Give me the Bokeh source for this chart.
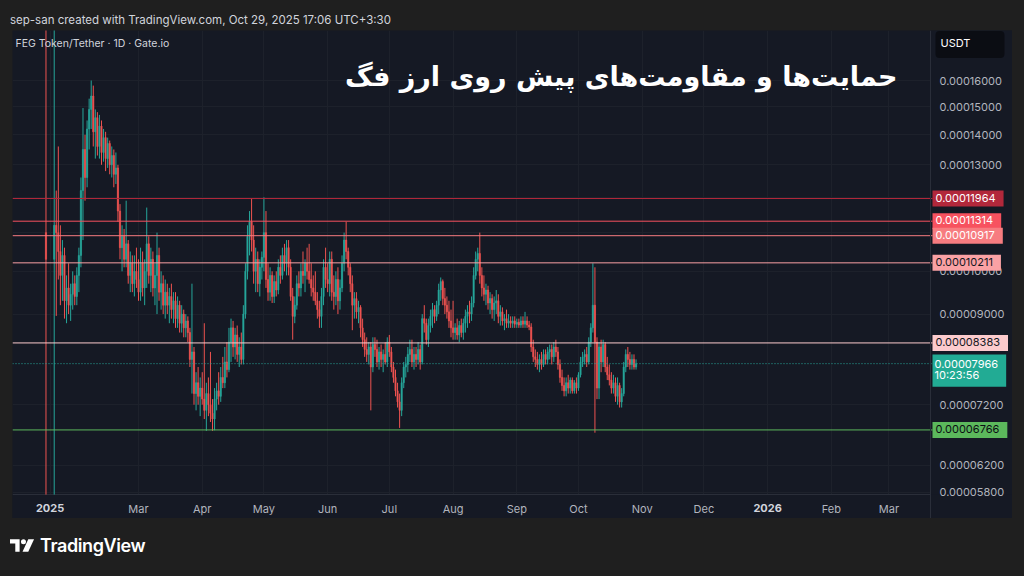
import json
import numpy as np
import pandas as pd
from bokeh.plotting import figure
from bokeh.models import (ColumnDataSource, Span, Label, FixedTicker, PrintfTickFormatter,
                          CustomJSTickFormatter, Range1d, Div, BoxAnnotation)
from bokeh.layouts import column
from bokeh.embed import file_html
from bokeh.resources import INLINE

# ---------------- data (prices in units of 1e-8 USDT) ----------------
first_open = 11000
close = [
    # Jan (15, 19-31)
    10300, 11200, 11000, 10500, 9900, 10400, 9300, 9600, 9200, 9450, 9700, 9400, 9900, 10400,
    # Feb
    12200, 13500, 12600, 14200, 14900, 15400, 14100, 14600, 13600, 14300, 13400, 13900, 13200, 13700,
    13000, 13300, 12700, 12900, 11600, 10600, 10900, 10300, 10700, 9900, 10200, 9700, 10000, 9800,
    # Mar
    9500, 10200, 9600, 10000, 10700, 9900, 10300, 9600, 9900, 10400, 9500, 9700, 9200, 9500, 9200, 9400,
    9100, 9300, 8900, 9200, 8800, 9000, 8700, 8850, 8600, 8050, 8200, 7400, 7600, 7350, 7500,
    # Apr
    7300, 7100, 7400, 7200, 7050, 6950, 7300, 7450, 7350, 7700, 7600, 8000, 7850, 8400, 8700,
    8300, 8550, 8150, 8300, 8050, 9000, 10000, 10900, 11300, 10800, 10000, 10300, 9700, 10100, 10350,
    # May
    11000, 9800, 9500, 9900, 9400, 9750, 9550, 10100, 9900, 10400, 10200, 10600, 10100, 9400, 8950, 9200,
    9700, 9600, 10000, 9900, 10200, 10000, 9800, 9600, 9500, 9300, 9100, 8950, 9400, 10100, 9800,
    # Jun
    9700, 10300, 9500, 9400, 9800, 9300, 9600, 10200, 10800, 10500, 10100, 9700, 9200, 9350, 9050,
    9150, 8700, 8450, 8250, 8150, 8300, 7900, 8350, 8250, 8000, 8200, 8050, 8150, 8000, 8400,
    # Jul
    8200, 7900, 7700, 7450, 7250, 7100, 7600, 7900, 7950, 8150, 8250, 8000, 8150, 8050, 8250, 8000,
    8900, 8800, 8450, 8750, 8950, 9100, 8950, 9200, 9550, 9750, 9350, 9200, 9050, 8850, 8700,
    # Aug
    8600, 8700, 8550, 8750, 8600, 8800, 8950, 9050, 9000, 9250, 9900, 10300, 10450, 9900, 9600, 9450,
    9550, 9250, 9350, 9100, 9250, 9300, 8950, 9050, 8850, 8900, 8800, 8850, 8800, 8850, 8780,
    # Sep
    8820, 8760, 8850, 8780, 8850, 8760, 8720, 8300, 8100, 8050, 7950, 8050, 7950, 8150, 8050,
    8200, 8250, 8100, 8300, 8200, 7950, 7700, 7550, 7450, 7600, 7500, 7650, 7450, 7600, 7500,
    # Oct
    7750, 8000, 8100, 8150, 8000, 8400, 8700, 9200, 8400, 7500, 8300, 8000, 8350, 7900, 7750,
    7650, 7500, 7600, 7350, 7550, 7250, 7400, 7900, 8150, 8050, 7950, 8050, 7900, 7966,
]
high = [
    40000, 40000, 12200, 13600, 11200, 10800, 10600, 9900, 10200, 9700, 10000, 9900, 10100, 10600,
    12600, 14950, 14000, 14500, 15300, 16000, 15800, 14900, 14800, 14700, 14500, 14200, 14100, 13900,
    13800, 13600, 13500, 13400, 13000, 11800, 11200, 11100, 11900, 10800, 10500, 10400, 10400, 10600,
    10300, 10600, 10500, 10300, 11700, 10900, 10600, 10500, 10200, 11000, 10600, 10000, 9900, 9800, 9700, 9600,
    9700, 9500, 9500, 9400, 9300, 9200, 9100, 9000, 8950, 8700, 9700, 8300, 7800, 7900, 7700,
    7800, 8800, 7600, 7700, 8200, 7300, 7500, 7600, 7800, 7900, 8100, 8300, 8400, 8700, 8900,
    8850, 8700, 8750, 8500, 8600, 9200, 10200, 11200, 11600, 11950, 11200, 10600, 10500, 10300, 10500,
    12000, 11600, 10200, 10100, 10000, 9900, 10000, 10300, 10400, 10600, 10700, 10800, 10800, 10300, 9600, 9400,
    9900, 10000, 10200, 10500, 10300, 10600, 10700, 10200, 9900, 10000, 9500, 9300, 9600, 10300, 10600,
    10200, 10500, 10500, 9900, 10000, 10100, 9800, 10400, 11000, 11300, 10600, 10200, 9900, 9500, 9500,
    9300, 9200, 8900, 8600, 8500, 8400, 8400, 8500, 8500, 8450, 8300, 8350, 8250, 8400, 8500,
    8550, 8300, 8000, 7850, 7600, 7400, 7700, 8000, 8100, 8300, 8450, 8450, 8300, 8300, 8400, 8350,
    9000, 9200, 8900, 8900, 9100, 9250, 9200, 9300, 9700, 9850, 9800, 9600, 9400, 9300, 9100,
    9300, 8800, 8900, 8850, 8900, 8900, 9100, 9200, 9300, 9400, 10100, 10500, 10600, 11000, 10100, 9900,
    9700, 9650, 9500, 9450, 9400, 9550, 9450, 9200, 9150, 9000, 9100, 9000, 8950, 8950, 8950,
    8900, 8900, 8950, 8950, 9050, 8950, 8850, 8800, 8450, 8250, 8200, 8150, 8200, 8250, 8250,
    8300, 8350, 8350, 8400, 8450, 8300, 8050, 7850, 7700, 7700, 7750, 7700, 7700, 7650, 7700,
    7800, 8100, 8200, 8250, 8300, 8500, 8800, 10200, 10100, 8500, 8400, 8450, 8450, 8400, 8100,
    7950, 7800, 7750, 7700, 7700, 7600, 7500, 8000, 8250, 8300, 8200, 8150, 8150, 8050,
]
low = [
    5770, 5770, 8960, 9800, 9200, 9300, 8900, 8800, 9000, 8850, 9100, 9200, 9200, 9500,
    10100, 10800, 11900, 12300, 13500, 14200, 13600, 13200, 13300, 13200, 13000, 13100, 12800, 12900,
    12700, 12600, 12300, 12400, 11300, 10300, 10000, 10100, 10100, 9700, 9500, 9500, 9400, 9600,
    9300, 9300, 9400, 9200, 9600, 9700, 9500, 9400, 9200, 9000, 9300, 9100, 9000, 8900, 9000, 8800,
    8900, 8800, 8700, 8700, 8600, 8600, 8500, 8500, 8400, 7900, 7400, 7200, 7100, 7200, 7000,
    7200, 6950, 6750, 7000, 6900, 6750, 6760, 7100, 7200, 7250, 7500, 7500, 7700, 7800, 8000,
    8100, 8050, 8000, 7900, 7950, 7950, 8900, 9800, 10400, 10500, 9700, 9500, 9500, 9400, 9800,
    10000, 9600, 9300, 9300, 9250, 9250, 9400, 9450, 9700, 9800, 10000, 9900, 9900, 9300, 8450, 8800,
    9100, 9400, 9400, 9700, 9500, 9800, 9700, 9400, 9300, 9200, 8900, 8700, 8700, 9200, 9600,
    9500, 9400, 9300, 9100, 9200, 9000, 9100, 9500, 10000, 10300, 9900, 9500, 8650, 8900, 8900,
    8800, 8500, 8300, 8100, 8000, 7950, 7100, 7800, 8100, 7900, 7850, 7900, 7800, 7950, 7900,
    8100, 7800, 7600, 7350, 7150, 6800, 7000, 7500, 7700, 7800, 8000, 7900, 7850, 7900, 7950, 7850,
    7950, 8600, 8350, 8300, 8600, 8700, 8800, 8850, 9000, 9300, 9200, 9000, 8900, 8700, 8500,
    8450, 8450, 8450, 8400, 8500, 8450, 8600, 8700, 8800, 8850, 9150, 9800, 10000, 9700, 9400, 9300,
    9200, 9100, 9000, 8900, 8850, 9000, 8800, 8750, 8750, 8650, 8700, 8700, 8700, 8700, 8700,
    8700, 8700, 8700, 8700, 8700, 8700, 8650, 8200, 8000, 7900, 7850, 7800, 7850, 7900, 7950,
    7950, 8050, 7950, 8000, 8100, 7850, 7600, 7450, 7350, 7350, 7400, 7400, 7400, 7400, 7400,
    7450, 7700, 7900, 7950, 7900, 7950, 8300, 8600, 6720, 7300, 7300, 7800, 7900, 7800, 7650,
    7550, 7400, 7400, 7250, 7200, 7150, 7150, 7350, 7800, 7900, 7850, 7850, 7850, 7850,
]
dates = ["2025-01-15"] + [d.strftime("%Y-%m-%d") for d in pd.date_range("2025-01-19", "2025-10-29")]

levels = [11964, 11314, 10917, 10211, 8383, 6766]
level_colors = ["#b2283b", "#f7525f", "#f77c80", "#faa1a4", "#fccbcd", "#5cb85c"]
level_text_colors = ["#ffffff", "#ffffff", "#ffffff", "#131722", "#131722", "#0b0e14"]
last_price = 7966
countdown = "10:23:56"
price_ticks = [5800, 6200, 7200, 9000, 10000, 11000, 12000, 13000, 14000, 15000, 16000]
month_ticks = ["2025-01-17", "2025-03-01", "2025-04-01", "2025-05-01", "2025-06-01", "2025-07-01",
               "2025-08-01", "2025-09-01", "2025-10-01", "2025-11-01", "2025-12-01", "2026-01-01",
               "2026-02-01", "2026-03-01"]
month_labels = ["2025", "Mar", "Apr", "May", "Jun", "Jul", "Aug", "Sep", "Oct", "Nov", "Dec", "2026",
                "Feb", "Mar"]
year_labels = ["2025", "2026"]
title_fa = "حمایت\u200cها و مقاومت\u200cهای پیش روی ارز فگ"
symbol_text = "FEG Token/Tether · 1D · Gate.io"
header_text = "sep-san created with TradingView.com, Oct 29, 2025 17:06 UTC+3:30"

# ---------------- preparation ----------------
SC = 1e-8
T0 = pd.Timestamp("2025-01-01")
xs = np.array([(pd.Timestamp(d) - T0).days for d in dates], dtype=float)
c = np.array(close, dtype=float)
o = np.array([first_open] + close[:-1], dtype=float)
h = np.maximum(np.array(high, dtype=float), np.maximum(o, c))
l = np.minimum(np.array(low, dtype=float), np.minimum(o, c))
UP, DOWN = "#26a69a", "#ef5350"
col = [UP if cc >= oo else DOWN for oo, cc in zip(o, c)]
src = ColumnDataSource(dict(x=xs, o=o * SC, h=h * SC, l=l * SC, c=c * SC,
                            top=np.maximum(o, c) * SC, bottom=np.minimum(o, c) * SC, color=col))

# layout (page pixels of the reference)
FL, FT, FR, FB = 12, 30, 1012, 518   # frame covers chart + price strip + time strip
STRIP = 930                          # left edge of the price scale strip
TSTRIP = 494                         # top edge of the time scale strip
PX_DAY = 2.056
MAR1 = (pd.Timestamp("2025-03-01") - T0).days


def x_at(px):
    return MAR1 + (px - 138) / PX_DAY


def price_at(py):
    return 16000e-8 * np.exp(-(py - 80) / 406.0)


NAVY = "#151924"
SEP = "#2a2e39"
GRID = "#1d212b"
AX_TXT = "#b2b5be"

p = figure(width=FR - FL, height=FB - FT, title=None,
           x_range=Range1d(x_at(FL), x_at(FR)), y_range=Range1d(price_at(FB), price_at(FT)),
           y_axis_type="log", y_axis_location="right",
           output_backend="svg", toolbar_location=None,
           min_border_left=0, min_border_right=0, min_border_top=0, min_border_bottom=0,
           background_fill_color=NAVY, border_fill_color=NAVY, outline_line_color=None,
           margin=(0, 12, 0, 12))

tick_x = [(pd.Timestamp(d) - T0).days for d in month_ticks]
xt = FixedTicker(ticks=tick_x)
yt = FixedTicker(ticks=[t * SC for t in price_ticks])
mapping = {str(k): ("" if v in year_labels else v) for k, v in zip(tick_x, month_labels)}

p.xaxis.ticker = xt
p.xaxis.formatter = CustomJSTickFormatter(
    code="const m = %s; return m[String(Math.round(tick))] || '';" % json.dumps(mapping))
p.yaxis.ticker = yt
p.yaxis.formatter = PrintfTickFormatter(format="%.8f")
for ax in (p.xaxis, p.yaxis):
    ax.major_label_text_color = AX_TXT
    ax.major_label_text_font = "Inter"
    ax.major_label_text_font_size = "11px"
    ax.major_tick_line_color = None
    ax.minor_tick_line_color = None
    ax.major_tick_out = 0
    ax.major_tick_in = 0
    ax.minor_tick_out = 0
    ax.minor_tick_in = 0
    ax.axis_line_color = None
p.xaxis.major_label_standoff = -(FB - 501)   # labels drawn inside the time strip
p.yaxis.major_label_standoff = -(FR - 939)   # labels drawn inside the price strip
p.xgrid.ticker = xt
p.ygrid.ticker = yt
p.xgrid.grid_line_color = GRID
p.ygrid.grid_line_color = GRID

# price/time strips background + separators
p.add_layout(BoxAnnotation(left=x_at(STRIP), fill_color=NAVY, fill_alpha=1.0, line_color=None,
                           level="underlay"))
p.add_layout(BoxAnnotation(top=price_at(TSTRIP), fill_color=NAVY, fill_alpha=1.0, line_color=None,
                           level="underlay"))
p.add_layout(Span(location=x_at(STRIP), dimension="height", line_color=SEP, line_width=1))
p.segment(x0=[x_at(FL)], x1=[x_at(STRIP)], y0=[price_at(TSTRIP)], y1=[price_at(TSTRIP)],
          line_color=SEP, line_width=1)

# candles
p.segment(x0="x", y0="l", x1="x", y1="h", line_color="color", line_width=1, source=src)
p.vbar(x="x", width=0.6, top="top", bottom="bottom", fill_color="color", line_color="color",
       line_width=0.6, source=src)

# support / resistance lines (stop at the price strip) and price labels
lsrc = ColumnDataSource(dict(y=[lv * SC for lv in levels], color=level_colors))
p.segment(x0=x_at(FL), x1=x_at(STRIP + 2), y0="y", y1="y", line_color="color", line_width=1,
          source=lsrc)
p.segment(x0=[x_at(FL)], x1=[x_at(STRIP + 2)], y0=[last_price * SC], y1=[last_price * SC],
          line_color=UP, line_width=1, line_dash="1 2")

for lv, lc, tc in zip(levels, level_colors, level_text_colors):
    p.add_layout(Label(x=STRIP + 2 - FL, x_units="screen", y=lv * SC, text=f"{lv * SC:.8f}",
                       text_align="left", text_baseline="middle", text_color=tc,
                       text_font="Inter", text_font_size="11px",
                       background_fill_color=lc, padding=(3, 8, 3, 5)))

p.add_layout(Label(x=STRIP + 2 - FL, x_units="screen", y=last_price * SC, y_offset=-7,
                   text=f"{last_price * SC:.8f}\n{countdown}", text_line_height=0.8,
                   text_align="left", text_baseline="middle", text_color="#ffffff",
                   text_font="Inter", text_font_size="11px",
                   background_fill_color="#22ab94", padding=(2, 8, 2, 5)))

# bold year labels on the time scale
for d, lab in zip(month_ticks, month_labels):
    if lab in year_labels:
        p.add_layout(Label(x=(pd.Timestamp(d) - T0).days, y=price_at(507), text=lab,
                           text_align="center", text_baseline="middle", text_color="#d1d4dc",
                           text_font="Inter", text_font_style="bold", text_font_size="11px"))

# USDT box
p.add_layout(Label(x=935 - FL, x_units="screen", y=price_at(44), text="USDT", text_align="left",
                   text_baseline="middle", text_color="#ffffff", text_font="Inter",
                   text_font_size="11px", background_fill_color="#0b0d13", padding=(5, 34, 5, 8),
                   border_radius=4))

# symbol legend and Persian title
p.add_layout(Label(x=3, x_units="screen", y=price_at(43), text=symbol_text, text_align="left",
                   text_baseline="middle", text_color="#d1d4dc", text_font="Inter",
                   text_font_size="10.5px"))
p.add_layout(Label(x=897 - FL, x_units="screen", y=price_at(76), text=title_fa, text_align="right",
                   text_baseline="middle", text_color="#ffffff", text_font="DejaVu Sans",
                   text_font_style="bold", text_font_size="27px"))

header = Div(text='<div style="padding:12px 0 0 10px;color:#d1d4dc;font-family:Inter,sans-serif;'
                  'font-size:11.5px;white-space:nowrap;">%s</div>' % header_text,
             width=1024, height=30, margin=0)
logo_svg = ('<svg width="25" height="15" viewBox="0 0 26 15" style="margin-right:5px">'
            '<path d="M0 1h10v13h-4.5V5.5H0z" fill="#ffffff"/>'
            '<circle cx="14" cy="3.6" r="2.6" fill="#ffffff"/>'
            '<path d="M19 1h6l-6 13h-6z" fill="#ffffff"/></svg>')
footer = Div(text='<div style="padding:15px 0 0 10px;display:flex;align-items:center;color:#ffffff;'
                  'font-family:Inter,sans-serif;font-size:18px;font-weight:600;letter-spacing:-0.4px;">'
                  '%s<span>TradingView</span></div>' % logo_svg,
             width=1024, height=58, margin=0)

layout = column(header, p, footer, spacing=0)

html = file_html(layout, INLINE, title="FEG/USDT")
html = html.replace("</head>", "<style>html,body{margin:0;padding:0;background:#1f1f1f;overflow:hidden}</style></head>")
open("out.html", "w").write(html)
